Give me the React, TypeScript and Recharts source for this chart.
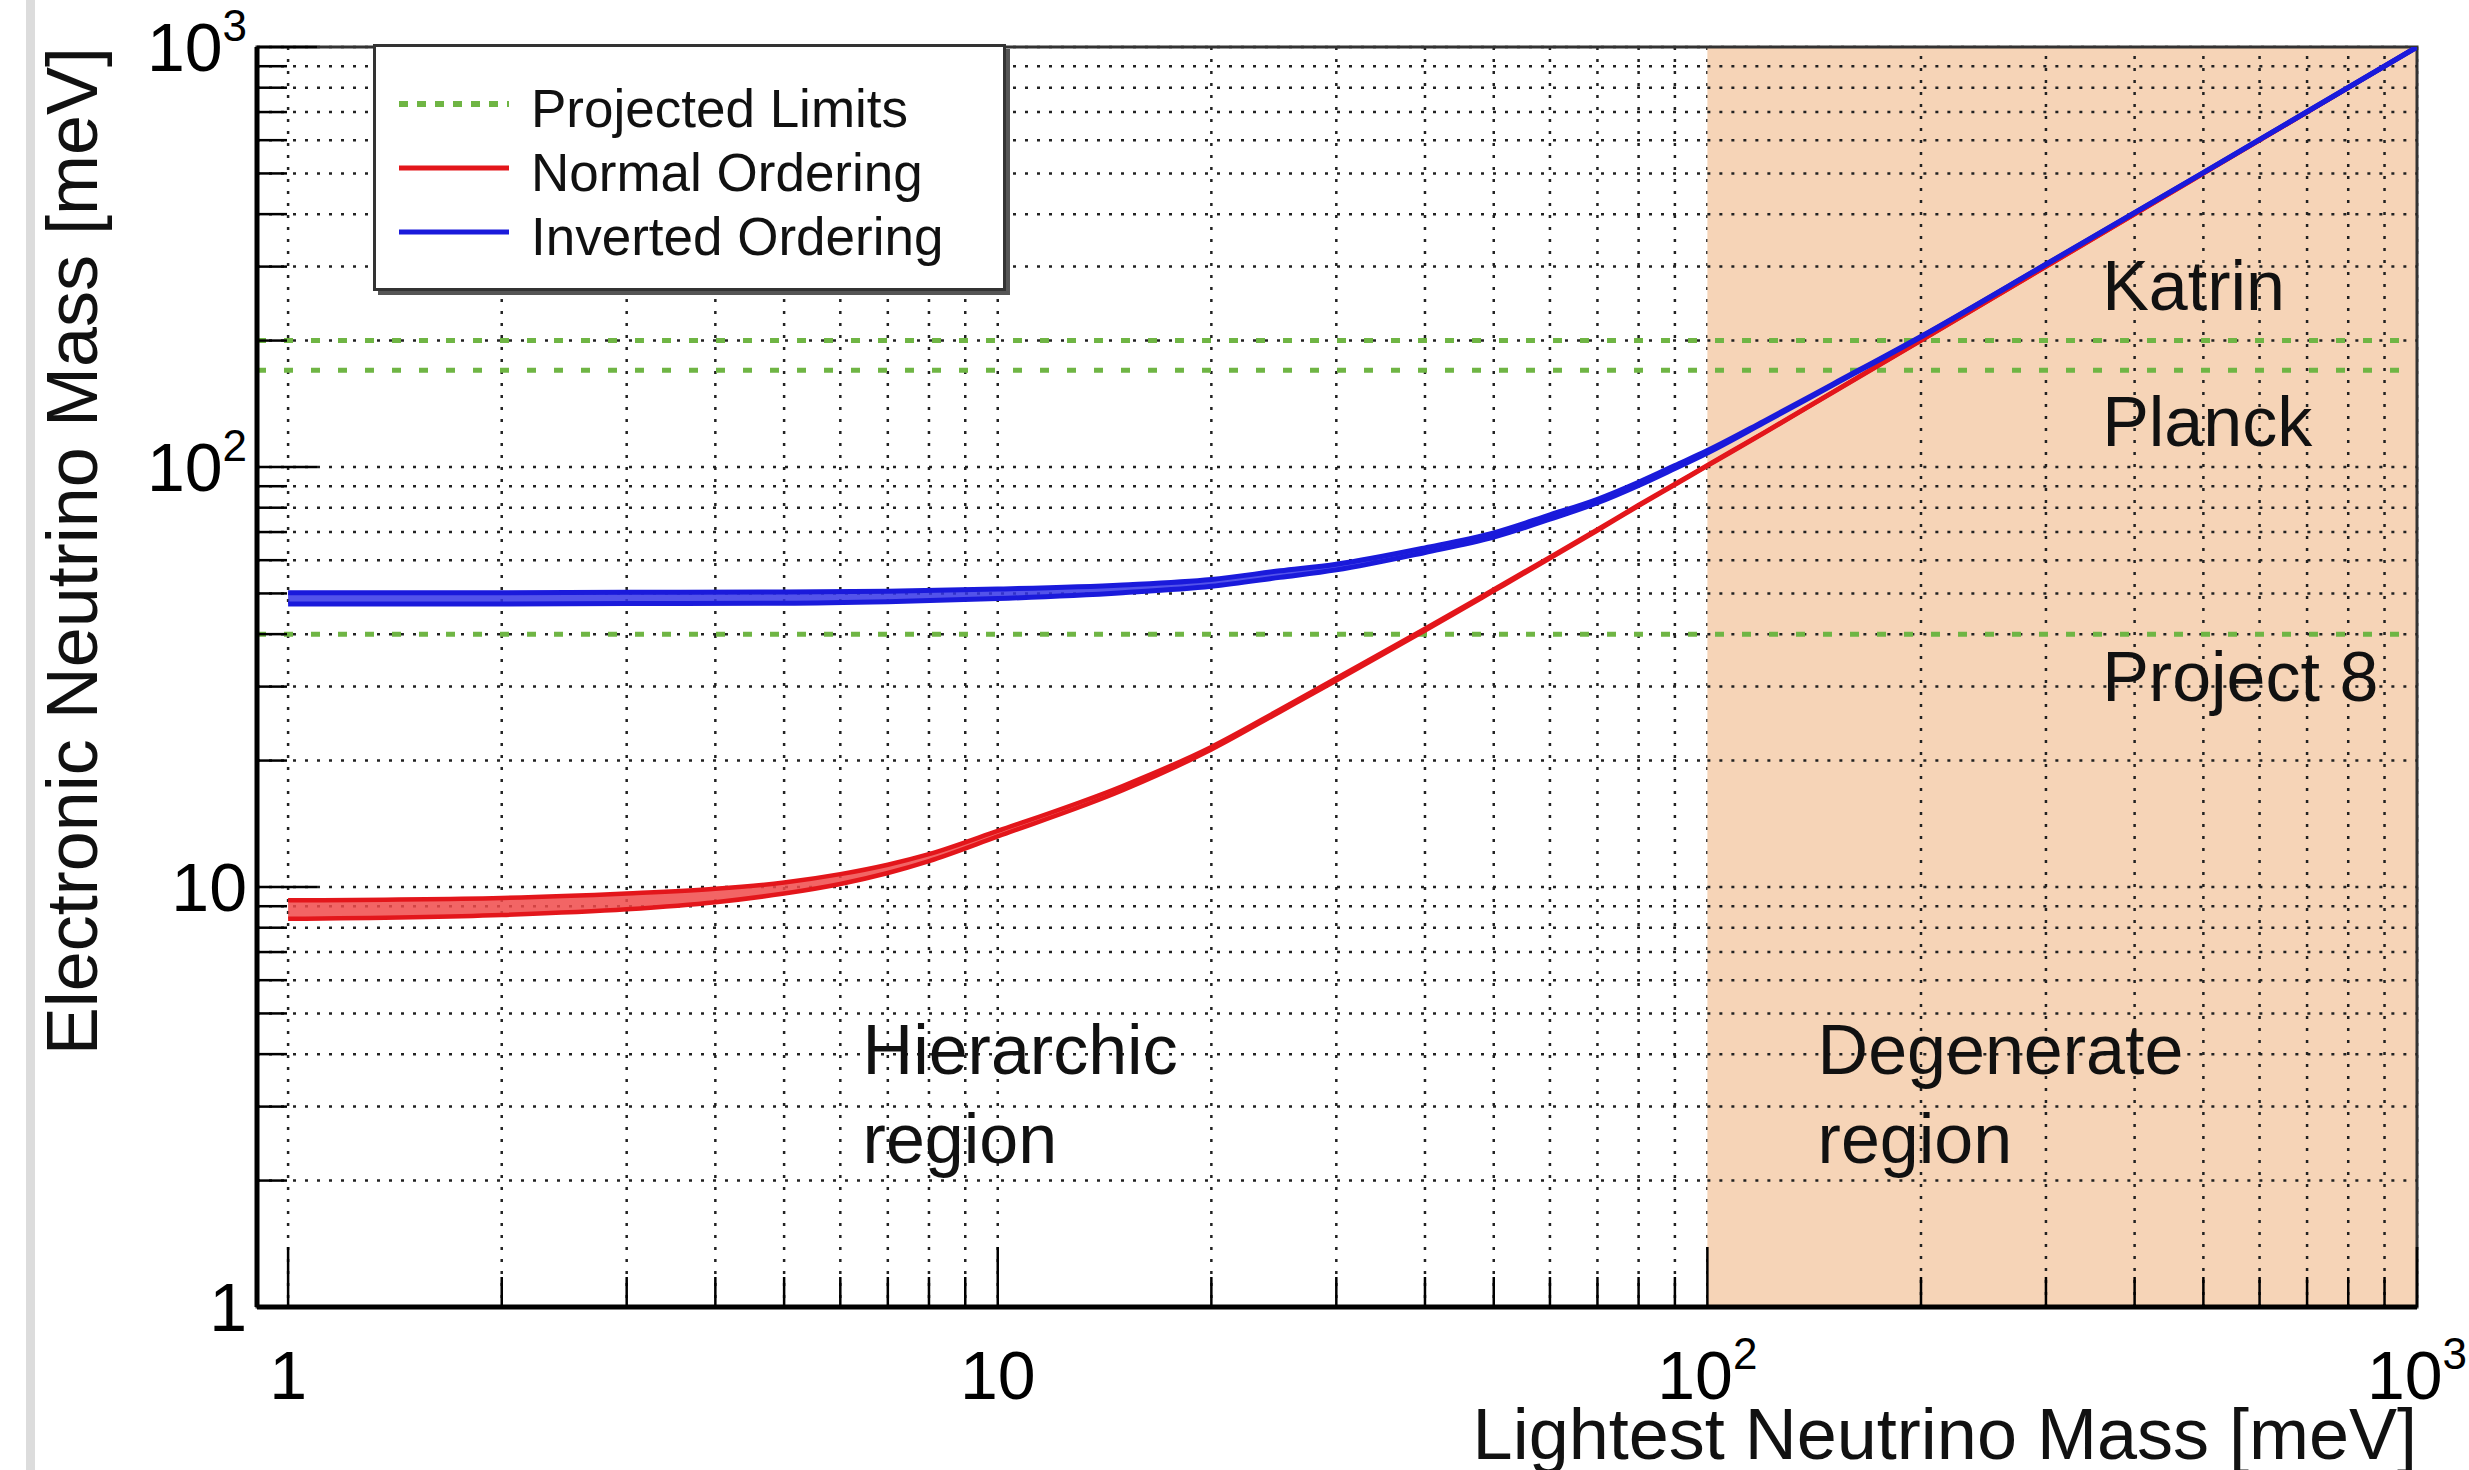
import {
  ComposedChart,
  Line,
  Area,
  XAxis,
  YAxis,
  CartesianGrid,
  ReferenceLine,
  ReferenceArea,
  ReferenceDot,
  Legend,
  Label,
} from "recharts";

// lightest neutrino mass [meV] vs electronic neutrino mass [meV]
const normalX = [1, 2, 3, 4, 5, 6, 7, 8, 10, 15, 20, 25, 30, 40, 50, 60, 70, 80, 90, 100, 120, 150, 200, 300, 500, 1000];
const normalLow = [8.4, 8.58, 8.85, 9.2, 9.65, 10.17, 10.8, 11.53, 13.2, 17.0, 21.25, 26.15, 31.0, 40.8, 50.7, 60.6, 70.6, 80.8, 90.7, 100.6, 120.3, 150.2, 200.1, 300, 500, 1000];
const normalHigh = [9.3, 9.42, 9.65, 9.9, 10.25, 10.73, 11.3, 11.97, 13.6, 17.4, 21.55, 26.45, 31.4, 41.2, 51.1, 61.0, 71.0, 81.2, 91.1, 101.0, 120.6, 150.5, 200.4, 300.2, 500, 1000];

const invertedX = [1, 2, 3, 5, 7, 10, 15, 20, 25, 30, 40, 50, 60, 70, 80, 90, 100, 120, 150, 200, 300, 500, 1000];
const invertedLow = [47.2, 47.2, 47.3, 47.4, 47.8, 48.6, 50.2, 52.0, 54.6, 56.9, 62.6, 68.1, 75.1, 82.2, 90.4, 99.2, 108.0, 127.4, 156.5, 204, 303.5, 502, 1000];
const invertedHigh = [50.2, 50.2, 50.3, 50.4, 50.6, 51.2, 52.4, 54.0, 56.6, 58.7, 64.2, 69.7, 76.9, 83.8, 92.0, 100.8, 109.4, 128.4, 157.3, 204.6, 304, 502.4, 1000];

// projected limits
const limitValues = [200, 170, 40];
const limitNames = ["Katrin", "Planck", "Project 8"];
const limitLabelY = [236, 112, 27.7];
const limitLabelX = 360;

// region annotations
const regionNames = ["Hierarchic", "Degenerate"];
const regionLabelX = [6.45, 143];
const regionLabelY = 3.59;
const degenerateFrom = 100;

// axis ticks
const logTicks = [1, 2, 3, 4, 5, 6, 7, 8, 9, 10, 20, 30, 40, 50, 60, 70, 80, 90, 100, 200, 300, 400, 500, 600, 700, 800, 900, 1000];
const decadeTicks = [1, 10, 100, 1000];
const decadeBase = ["1", "10", "10", "10"];
const decadeExp = ["", "", "2", "3"];

const legendLabels = ["Projected Limits", "Normal Ordering", "Inverted Ordering"];

const FONT = "'Liberation Sans', Arial, Helvetica, sans-serif";
const GREEN = "#6fb544";
const RED = "#e3161b";
const RED_FILL = "#f04a4a";
const BLUE = "#1a1adb";
const BLUE_FILL = "#3535e6";
const PEACH = "#f6d4b7";
const GRID = "#222";

const normalRows = normalX.map((x, i) => ({
  x,
  lo: normalLow[i],
  hi: normalHigh[i],
  band: [normalLow[i], normalHigh[i]],
}));
const invertedRows = invertedX.map((x, i) => ({
  x,
  lo: invertedLow[i],
  hi: invertedHigh[i],
  band: [invertedLow[i], invertedHigh[i]],
}));

function tickLabel(i: number, x: number, y: number, anchor: "middle" | "end") {
  return (
    <text x={x} y={y} textAnchor={anchor} fontSize={68} fontFamily={FONT} fill="#000">
      {decadeBase[i]}
      {decadeExp[i] && (
        <tspan fontSize={44} dy={-30}>
          {decadeExp[i]}
        </tspan>
      )}
    </text>
  );
}

function XTick(props: any) {
  const { x, y, payload } = props;
  const i = decadeTicks.indexOf(payload.value);
  const major = i >= 0;
  return (
    <g>
      <line x1={x} x2={x} y1={y} y2={y - (major ? 60 : 30)} stroke="#000" strokeWidth={2.5} />
      {major && tickLabel(i, x, y + 92, "middle")}
    </g>
  );
}

function YTick(props: any) {
  const { x, y, payload } = props;
  const i = decadeTicks.indexOf(payload.value);
  const major = i >= 0;
  return (
    <g>
      <line x1={x} x2={x + (major ? 60 : 30)} y1={y} y2={y} stroke="#000" strokeWidth={2.5} />
      {major && tickLabel(i, x - 10, y + 24, "end")}
    </g>
  );
}

function LegendBox() {
  const colors = [GREEN, RED, BLUE];
  return (
    <svg width={642} height={256} style={{ display: "block" }}>
      <rect x={5} y={5} width={632} height={246} fill="#555" />
      <rect x={1.5} y={1.5} width={630} height={244} fill="#fff" stroke="#333" strokeWidth={3} />
      {legendLabels.map((name, i) => (
        <g key={name}>
          <line
            x1={26}
            x2={136}
            y1={60 + i * 64}
            y2={60 + i * 64}
            stroke={colors[i]}
            strokeWidth={i === 0 ? 6 : 5}
            strokeDasharray={i === 0 ? "9 9" : undefined}
          />
          <text x={158} y={83 + i * 64} fontSize={53} fontFamily={FONT} fill="#111">
            {name}
          </text>
        </g>
      ))}
    </svg>
  );
}

function annotation(lines: string[]) {
  return (props: any) => {
    const vb = props.viewBox || {};
    return (
      <text x={vb.x} y={vb.y} fontSize={70} fontFamily={FONT} fill="#111">
        {lines.map((t, k) => (
          <tspan key={t} x={vb.x} dy={k === 0 ? 0 : 89}>
            {t}
          </tspan>
        ))}
      </text>
    );
  };
}

export default function App() {
  // grid lines that must stay visible on top of the shaded degenerate region
  const shadedVertical = logTicks.filter((t) => t > degenerateFrom && t < 1000);
  const shadedHorizontal = logTicks.filter((t) => t > 1 && t < 1000);

  return (
    <div
      style={{
        position: "absolute",
        left: 0,
        top: 0,
        width: 2469,
        height: 1470,
        background: "#fff",
        overflow: "hidden",
      }}
    >
      <div style={{ position: "absolute", left: 26, top: 0, width: 9, height: 1470, background: "#dcdcdc" }} />
      <ComposedChart width={2469} height={1470} margin={{ top: 47, right: 52, bottom: 0, left: 0 }}>
        <ReferenceArea x1={degenerateFrom} x2={1000} y1={1} y2={1000} fill={PEACH} fillOpacity={1} stroke="none" />
        <CartesianGrid stroke={GRID} strokeDasharray="3 9" strokeWidth={2.5} />
        {shadedVertical.map((t) => (
          <ReferenceLine key={"v" + t} x={t} stroke={GRID} strokeWidth={2.5} strokeDasharray="3 9" />
        ))}
        {shadedHorizontal.map((t) => (
          <ReferenceLine
            key={"h" + t}
            segment={[
              { x: degenerateFrom, y: t },
              { x: 1000, y: t },
            ]}
            stroke={GRID}
            strokeWidth={2.5}
            strokeDasharray="3 9"
          />
        ))}
        <XAxis
          dataKey="x"
          type="number"
          scale="log"
          domain={[0.904, 1000]}
          allowDataOverflow
          ticks={logTicks}
          interval={0}
          tick={XTick}
          tickLine={false}
          tickSize={0}
          tickMargin={0}
          height={163}
          axisLine={{ stroke: "#000", strokeWidth: 5 }}
        >
          <Label
            content={(p: any) => {
              const vb = p.viewBox;
              return (
                <text x={vb.x + vb.width} y={vb.y + 152} textAnchor="end" fontSize={72} fontFamily={FONT} fill="#111">
                  Lightest Neutrino Mass [meV]
                </text>
              );
            }}
          />
        </XAxis>
        <YAxis
          type="number"
          scale="log"
          domain={[1, 1000]}
          allowDataOverflow
          ticks={logTicks}
          interval={0}
          tick={YTick}
          tickLine={false}
          tickSize={0}
          tickMargin={0}
          width={257}
          axisLine={{ stroke: "#000", strokeWidth: 5 }}
        >
          <Label
            content={(p: any) => {
              const vb = p.viewBox;
              return (
                <text
                  x={97}
                  y={vb.y}
                  transform={`rotate(-90, 97, ${vb.y})`}
                  textAnchor="end"
                  fontSize={72}
                  fontFamily={FONT}
                  fill="#111"
                >
                  Electronic Neutrino Mass [meV]
                </text>
              );
            }}
          />
        </YAxis>

        {limitValues.map((v) => (
          <ReferenceLine key={v} y={v} stroke={GREEN} strokeWidth={5} strokeDasharray="9 18" />
        ))}

        <Area
          data={normalRows}
          dataKey="band"
          type="monotone"
          stroke="none"
          fill={RED_FILL}
          fillOpacity={0.85}
          isAnimationActive={false}
        />
        <Line data={normalRows} dataKey="lo" type="monotone" stroke={RED} strokeWidth={4.5} dot={false} isAnimationActive={false} />
        <Line data={normalRows} dataKey="hi" type="monotone" stroke={RED} strokeWidth={4.5} dot={false} isAnimationActive={false} />

        <Area
          data={invertedRows}
          dataKey="band"
          type="monotone"
          stroke="none"
          fill={BLUE_FILL}
          fillOpacity={0.85}
          isAnimationActive={false}
        />
        <Line data={invertedRows} dataKey="lo" type="monotone" stroke={BLUE} strokeWidth={5} dot={false} isAnimationActive={false} />
        <Line data={invertedRows} dataKey="hi" type="monotone" stroke={BLUE} strokeWidth={5} dot={false} isAnimationActive={false} />

        {limitNames.map((name, i) => (
          <ReferenceDot
            key={name}
            x={limitLabelX}
            y={limitLabelY[i]}
            r={0}
            fill="none"
            stroke="none"
            label={{ content: annotation([name]) }}
          />
        ))}
        {regionNames.map((name, i) => (
          <ReferenceDot
            key={name}
            x={regionLabelX[i]}
            y={regionLabelY}
            r={0}
            fill="none"
            stroke="none"
            label={{ content: annotation([name, "region"]) }}
          />
        ))}

        <ReferenceArea x1={0.904} x2={1000} y1={1} y2={1000} fill="none" stroke="#333" strokeWidth={3} />

        <Legend
          layout="vertical"
          align="center"
          verticalAlign="middle"
          content={() => <LegendBox />}
          wrapperStyle={{ position: "absolute", left: 373, top: 44, width: 642, height: 256 }}
        />
      </ComposedChart>
    </div>
  );
}
